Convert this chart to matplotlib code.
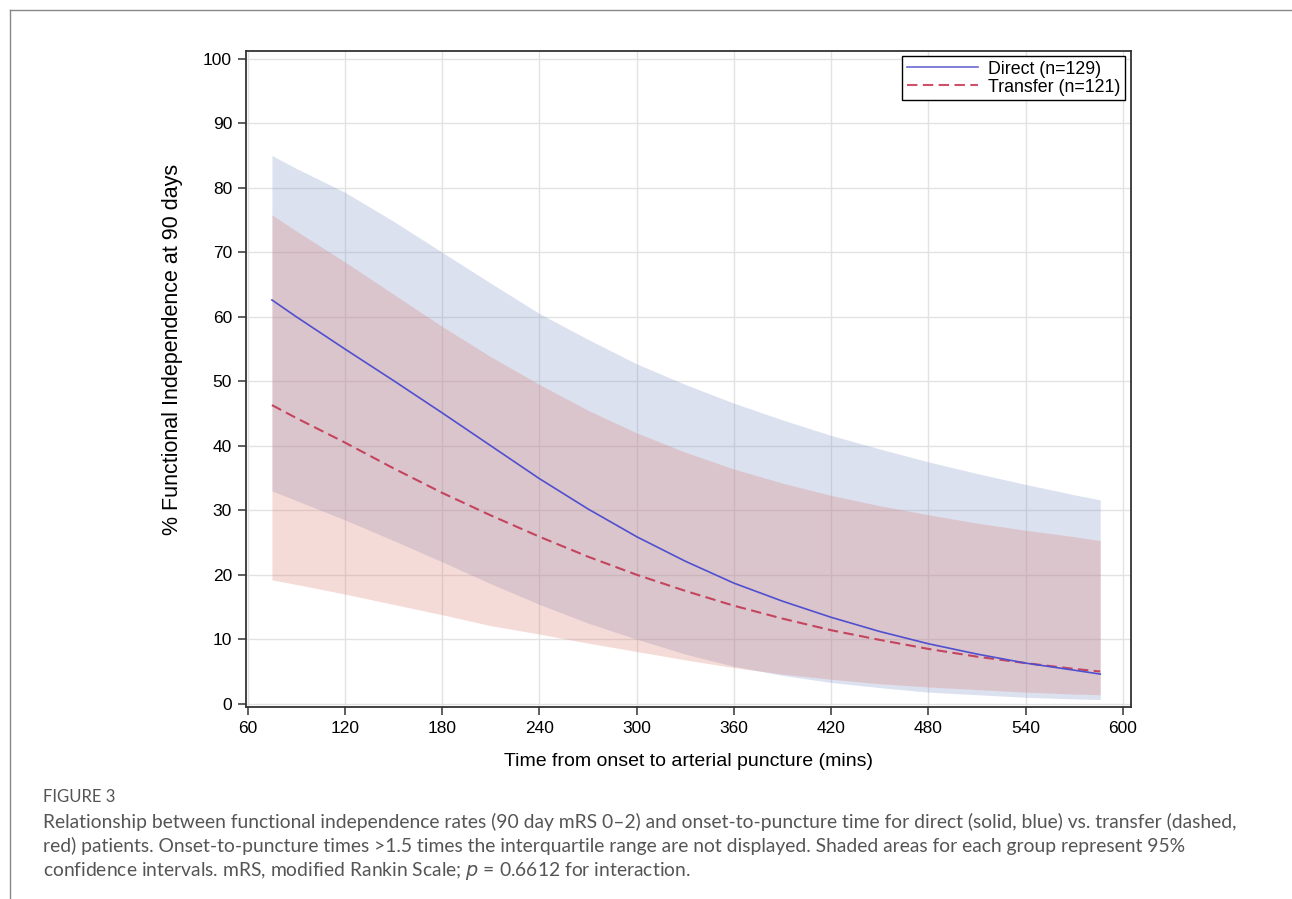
import matplotlib
matplotlib.use("Agg")
import matplotlib.pyplot as plt
from matplotlib.lines import Line2D

# values (minutes, % functional independence)
minutes = [75, 90, 120, 150, 180, 210, 240, 270, 300, 330, 360, 390, 420, 450, 480, 510, 540, 570, 586]

direct = [62.6, 60.0, 55.0, 50.1, 45.1, 40.0, 34.9, 30.2, 25.9, 22.1, 18.7, 15.9, 13.4, 11.2, 9.3, 7.7, 6.3, 5.2, 4.6]
direct_hi = [85.0, 83.0, 79.3, 74.8, 70.0, 65.2, 60.5, 56.5, 52.7, 49.5, 46.6, 44.0, 41.6, 39.5, 37.5, 35.7, 34.0, 32.4, 31.6]
direct_lo = [33.0, 31.5, 28.5, 25.3, 22.0, 18.6, 15.4, 12.5, 10.0, 7.7, 5.8, 4.4, 3.3, 2.5, 1.8, 1.4, 1.0, 0.75, 0.65]

transfer = [46.3, 44.3, 40.5, 36.5, 32.7, 29.2, 25.9, 22.8, 20.0, 17.5, 15.2, 13.2, 11.4, 9.9, 8.5, 7.3, 6.3, 5.4, 5.0]
transfer_hi = [75.8, 73.3, 68.5, 63.5, 58.5, 53.8, 49.5, 45.5, 42.0, 39.0, 36.4, 34.2, 32.3, 30.7, 29.3, 28.0, 26.9, 25.9, 25.3]
transfer_lo = [19.2, 18.5, 17.0, 15.4, 13.8, 12.1, 10.8, 9.4, 8.1, 6.8, 5.6, 4.6, 3.8, 3.1, 2.6, 2.2, 1.8, 1.5, 1.4]

labels = ["Direct (n=129)", "Transfer (n=121)"]

caption = ("Relationship between functional independence rates (90 day mRS 0\u20132) and onset-to-puncture time for direct (solid, blue) vs. transfer (dashed,\n"
           "red) patients. Onset-to-puncture times >1.5 times the interquartile range are not displayed. Shaded areas for each group represent 95%\n"
           "confidence intervals. mRS, modified Rankin Scale; $p$ = 0.6612 for interaction.")

plt.rcParams['font.family'] = ['Liberation Sans', 'DejaVu Sans']

fig = plt.figure(figsize=(12.92, 8.99), dpi=100)
ax = fig.add_axes([0.1904, 0.2136, 0.685, 0.7297])

ax.fill_between(minutes, direct_lo, direct_hi, color="#778BC7", alpha=0.25, lw=0, zorder=2)
ax.fill_between(minutes, transfer_lo, transfer_hi, color="#DB7363", alpha=0.25, lw=0, zorder=3)
ax.plot(minutes, direct, color="#4F4FCF", lw=1.2, zorder=5)
ax.plot(minutes, transfer, color="#C4445E", lw=1.5, dashes=(5, 2.6), zorder=4)

ax.set_xlim(59, 605)
ax.set_ylim(-0.5, 101.2)
ax.set_xticks(range(60, 601, 60))
ax.set_yticks(range(0, 101, 10))
ax.grid(True, color="#e2e2e2", lw=1.0, zorder=1)
ax.set_axisbelow(True)
for s in ax.spines.values():
    s.set_color("#333333")
    s.set_linewidth(1.3)
ax.tick_params(direction="out", length=6, width=1.1, color="#333333", labelsize=12.5, pad=4)

ax.set_xlabel("Time from onset to arterial puncture (mins)", fontsize=14, labelpad=12)
ax.set_ylabel("% Functional Independence at 90 days", fontsize=15.5)
ax.yaxis.set_label_coords(-0.071, 0.545)

handles = [Line2D([], [], color="#6A6ACF", lw=1.2),
           Line2D([], [], color="#D0506A", lw=1.5, dashes=(5, 2.6))]
leg = ax.legend(handles, labels, loc="upper right", fontsize=12.8, fancybox=False,
                framealpha=1, edgecolor="black", bbox_to_anchor=(0.9935, 0.992),
                borderaxespad=0, handlelength=4.0, borderpad=0.25,
                labelspacing=0.05, handletextpad=0.6)
leg.get_frame().set_linewidth(1.0)

# page frame lines
fig.add_artist(Line2D([10 / 1292, 1], [1 - 10 / 899, 1 - 10 / 899], color="#888888", lw=1))
fig.add_artist(Line2D([10 / 1292, 10 / 1292], [0, 1 - 10 / 899], color="#888888", lw=1))

fig.text(43 / 1292, 1 - 797 / 899, "FIGURE 3", fontsize=12, color="#555555",
         family=["Lato", "DejaVu Sans"], va="center")
fig.text(43 / 1292, 1 - 813 / 899, caption, fontsize=13.9, color="#555555",
         family=["Lato", "DejaVu Sans"], va="top", linespacing=1.36)

fig.savefig("out.png", dpi=100)
